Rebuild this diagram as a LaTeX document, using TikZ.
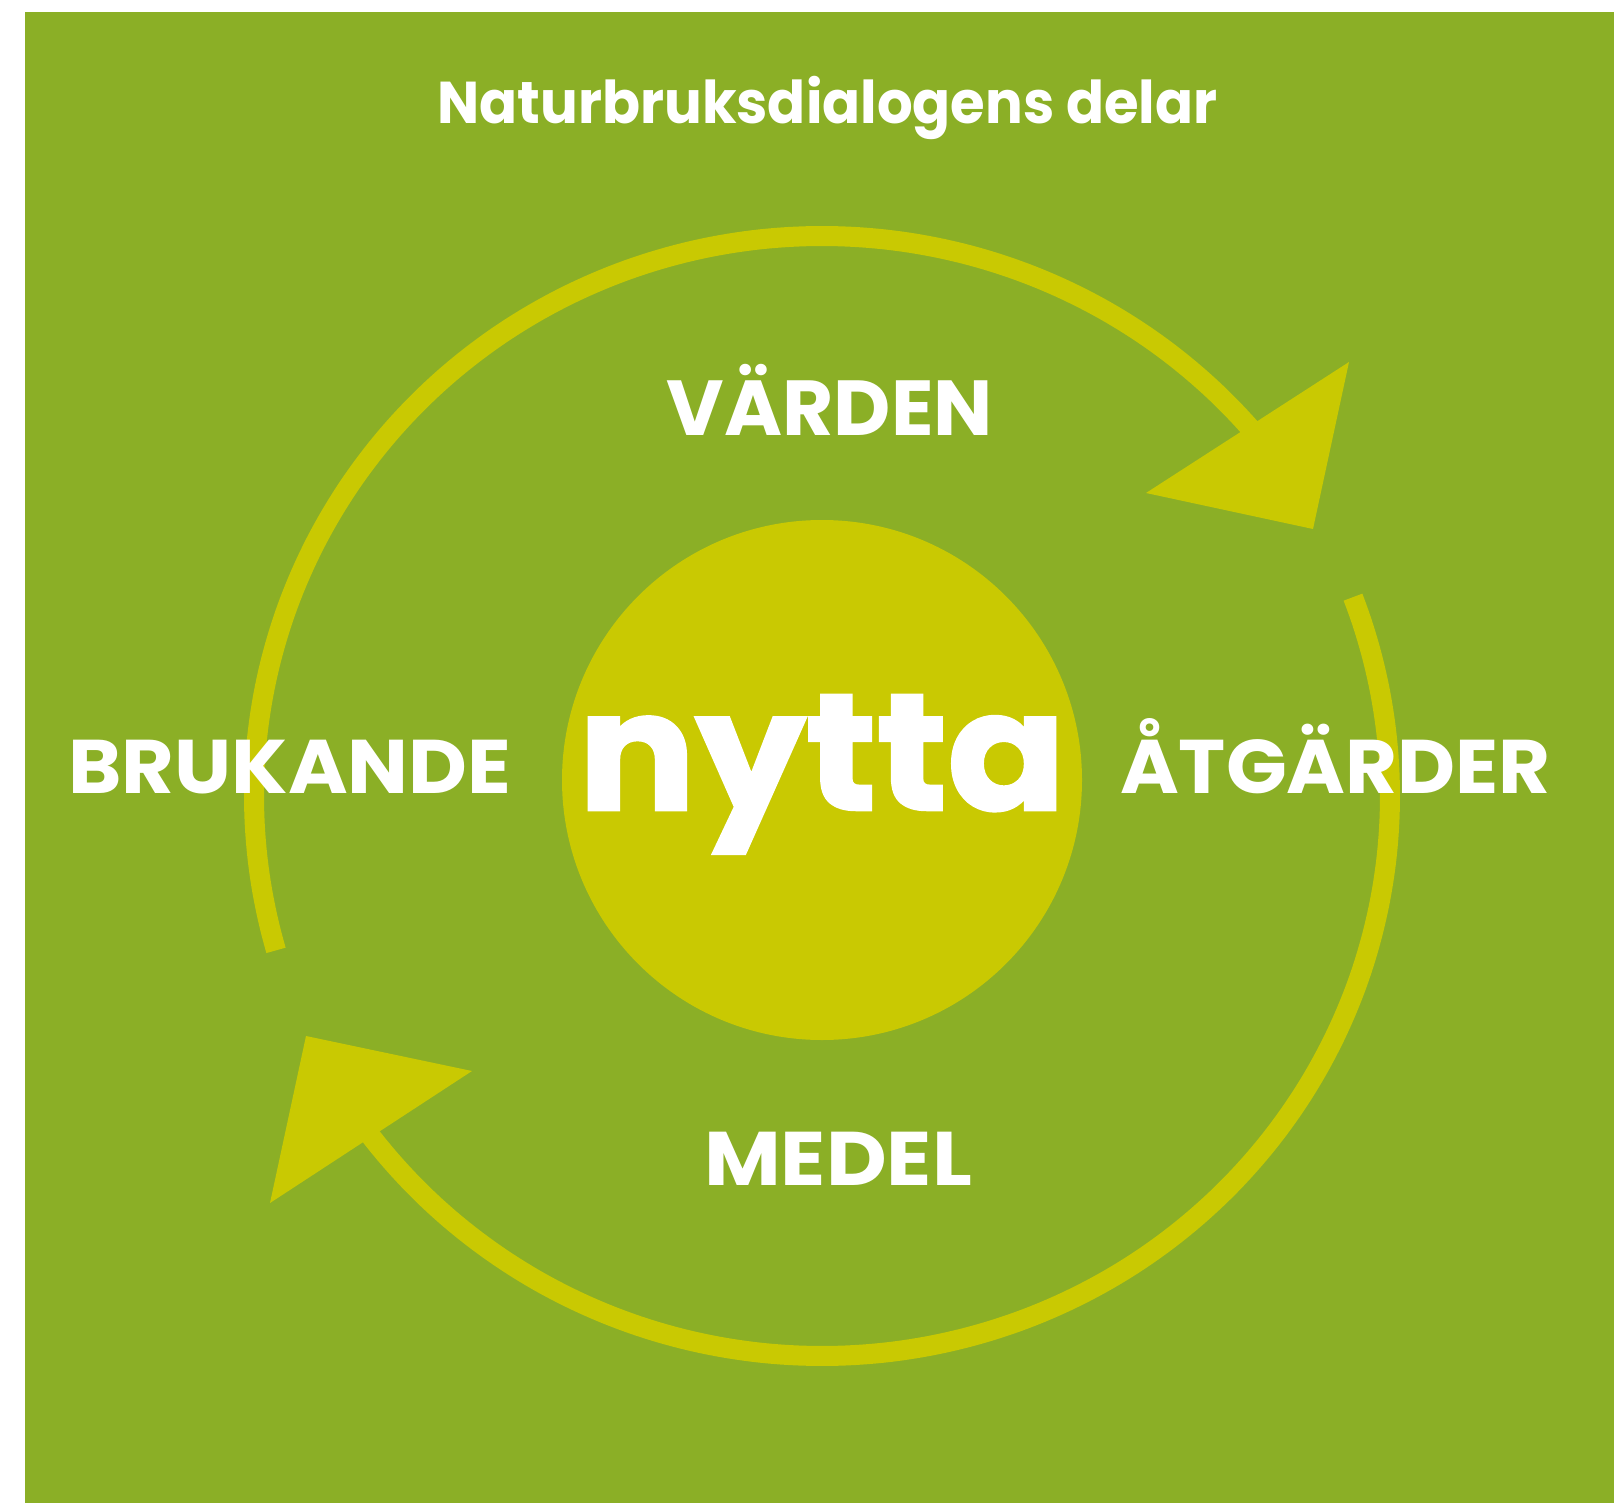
\documentclass[tikz,border=0pt]{standalone}
\usepackage{fontspec}
\setmainfont{Poppins}
\newfontfamily\heavy{Poppins}[FakeBold=1.5]
\begin{document}
\begin{tikzpicture}[x=1pt,y=-1pt,
  lbl/.style={text=white,inner sep=0pt,anchor=base,font=\bfseries\fontsize{76}{80}\selectfont},
  ring/.style={draw=ylw,line width=20pt,line cap=butt}]
\definecolor{bg}{RGB}{139,175,38}
\definecolor{ylw}{RGB}{201,201,2}
\useasboundingbox (0,0) rectangle (1614,1503);
\fill[white] (0,0) rectangle (1614,1503);
\fill[bg] (25,12) rectangle (1614,1503);
% centre disk
\fill[ylw] (822,780) circle[radius=260];
% ring arcs
\draw[ring] plot[domain=196:39,samples=180,variable=\t] ({822+568*cos(\t)},{796-560*sin(\t)});
\draw[ring] plot[domain=20.8:-145,samples=180,variable=\t] ({822+568*cos(\t)},{796-560*sin(\t)});
% arrowheads
\fill[ylw] (1349,362) -- (1146,493) -- (1313,529) -- cycle;
\fill[ylw] (306,1036) -- (472,1071) -- (270,1203) -- cycle;
% texts
\node[lbl,font=\bfseries\fontsize{59}{64}\selectfont] (title) at (827.5,123.5) {\scalebox{0.95}[1]{Naturbruksdialogens delar}};
\node[lbl,font=\bfseries\fontsize{78}{80}\selectfont] (varden) at (830,435.4) {\scalebox{1.01}[1]{VÄRDEN}};
\node[lbl] (brukande) at (290,793.6) {\scalebox{1.066}[1]{BRUKANDE}};
\node[lbl] (atgarder) at (1335.5,793.6) {\scalebox{1.05}[1]{ÅTGÄRDER}};
\node[lbl] (medel) at (838,1185.8) {\scalebox{1.10}[1]{MEDEL}};
\node[lbl,font=\heavy\bfseries\fontsize{166}{170}\selectfont] (nytta) at (822,810) {\scalebox{1.05}[1]{nytta}};
\end{tikzpicture}
\end{document}
